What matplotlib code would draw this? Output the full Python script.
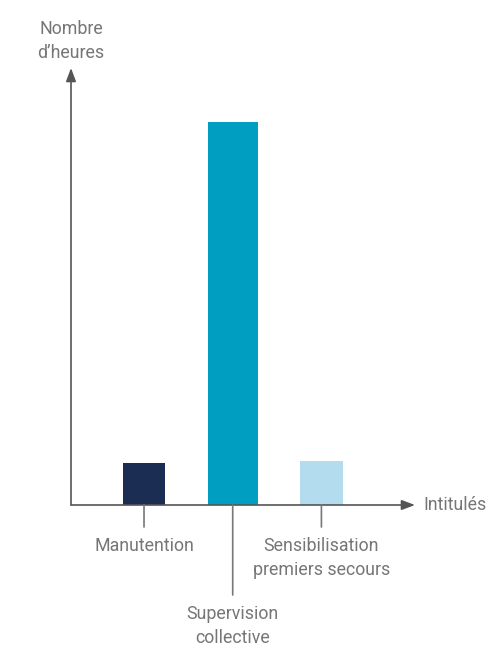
import matplotlib
matplotlib.use("Agg")
import matplotlib.pyplot as plt

plt.rcParams['font.family'] = ['Roboto', 'DejaVu Sans']

categories = ['Manutention', 'Supervision\ncollective', 'Sensibilisation\npremiers secours']
hours = [22, 200, 23]
colors = ['#1c2d54', '#009ec0', '#b3dcef']
widths = [0.48, 0.56, 0.48]
label_drop = [22, 90, 22]   # longueur des traits de rappel (px)

W, H = 490, 646
fig = plt.figure(figsize=(W / 100, H / 100), dpi=100)
ax = fig.add_axes([71 / W, (H - 505) / H, (415 - 71) / W, (505 - 68) / H])

x = list(range(len(categories)))
ax.bar(x, hours, width=widths, color=colors)
ax.set_xlim(-0.823, 3.055)
ax.set_ylim(0, 228)

for s in ax.spines.values():
    s.set_visible(False)
ax.set_xticks([])
ax.set_yticks([])

txt = '#767676'
fs = 12.8
# axes with arrows
ax.annotate('', xy=(1, 0), xytext=(0, 0), xycoords='axes fraction',
            arrowprops=dict(arrowstyle='-|>,head_length=0.8,head_width=0.3',
                            color='#555555', lw=1.2, shrinkA=0, shrinkB=0))
ax.annotate('', xy=(0, 1), xytext=(0, 0), xycoords='axes fraction',
            arrowprops=dict(arrowstyle='-|>,head_length=0.8,head_width=0.3',
                            color='#555555', lw=1.2, shrinkA=0, shrinkB=0))

ax.annotate('Intitulés', xy=(1, 0), xycoords='axes fraction', xytext=(8, 0),
            textcoords='offset pixels', ha='left', va='center',
            fontsize=fs, color=txt, annotation_clip=False)
ax.annotate("Nombre\nd’heures", xy=(0, 1), xycoords='axes fraction', xytext=(0, 6),
            textcoords='offset pixels', ha='center', va='bottom',
            fontsize=fs, color=txt, linespacing=1.45, annotation_clip=False)

for i, lab in enumerate(categories):
    d = label_drop[i]
    ax.annotate('', xy=(i, 0), xycoords='data', xytext=(0, -d),
                textcoords='offset pixels',
                arrowprops=dict(arrowstyle='-', color='#777777', lw=1.2,
                                shrinkA=0, shrinkB=0))
    ax.annotate(lab, xy=(i, 0), xycoords='data', xytext=(0, -d - 10),
                textcoords='offset pixels', ha='center', va='top',
                fontsize=fs, color=txt, linespacing=1.45, annotation_clip=False)

fig.savefig('out.png', dpi=100)
